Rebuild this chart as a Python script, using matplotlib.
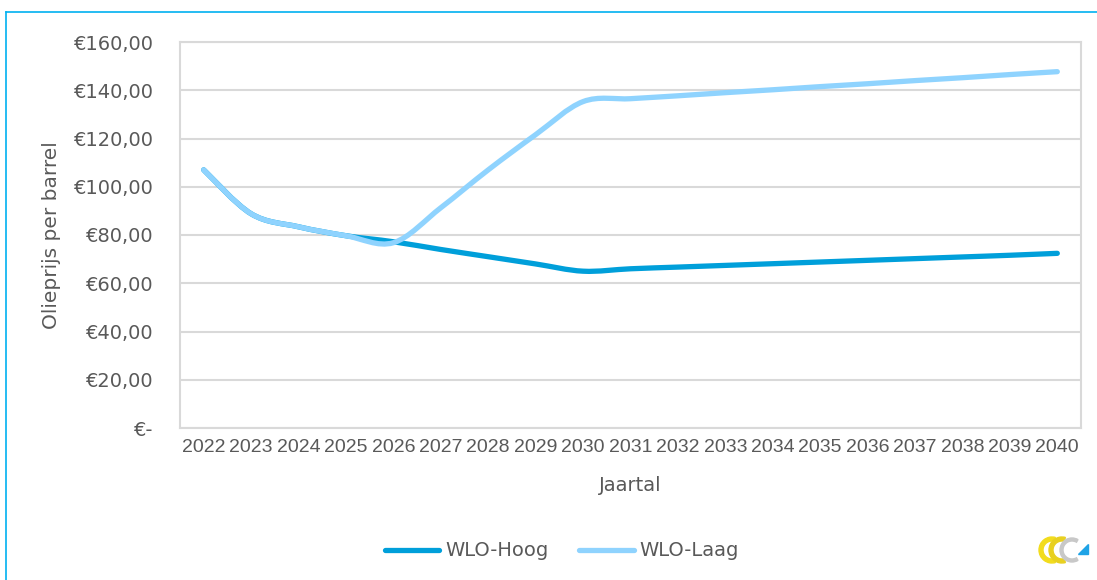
import numpy as np
import matplotlib
matplotlib.use('Agg')
import matplotlib.pyplot as plt
from matplotlib.path import Path
from matplotlib.patches import PathPatch, Wedge, Polygon
from matplotlib.lines import Line2D
from matplotlib.ticker import FuncFormatter

plt.rcParams['font.family'] = ['DejaVu Sans']

# Data
years = list(range(2022, 2041))
wlo_hoog = [107.0, 88.8, 83.4, 79.7, 77.2, 74.0, 71.0, 68.0, 65.0, 66.0,
            66.7, 67.4, 68.1, 68.8, 69.5, 70.2, 70.9, 71.6, 72.4]
wlo_laag = [107.0, 88.8, 83.4, 79.7, 76.8, 91.3, 107.0, 121.6, 135.3, 136.5,
            137.7, 139.0, 140.2, 141.5, 142.7, 144.0, 145.2, 146.5, 147.7]
series_names = ['WLO-Hoog', 'WLO-Laag']
colors = ['#009FDA', '#8FD3FE']

text_col = '#595959'
grid_col = '#D9D9D9'


def smooth_path(xs, ys):
    # Excel style smoothed line: cubic bezier with 1/6 tangent control points
    pts = np.column_stack([xs, ys]).astype(float)
    n = len(pts)
    verts = [pts[0]]
    codes = [Path.MOVETO]
    for i in range(n - 1):
        p0 = pts[i - 1] if i > 0 else pts[i]
        p1 = pts[i]
        p2 = pts[i + 1]
        p3 = pts[i + 2] if i + 2 < n else pts[i + 1]
        c1 = p1 + (p2 - p0) / 6.0
        c2 = p2 - (p3 - p1) / 6.0
        verts += [c1, c2, p2]
        codes += [Path.CURVE4] * 3
    return Path(verts, codes)


fig = plt.figure(figsize=(10.97, 5.80), dpi=100)
ax = fig.add_axes([180 / 1097, 1 - 428 / 580, 901 / 1097, 386 / 580])

x = np.arange(len(years))
for vals, col in zip([wlo_hoog, wlo_laag], colors):
    patch = PathPatch(smooth_path(x, vals), facecolor='none', edgecolor=col,
                      lw=3.8, capstyle='round', joinstyle='round')
    ax.add_patch(patch)

ax.set_xlim(-0.5, len(years) - 0.5)
ax.set_ylim(0, 160)
ax.set_yticks(np.arange(0, 161, 20))
ax.yaxis.set_major_formatter(FuncFormatter(
    lambda v, p: '€-' if v == 0 else '€' + ('%.2f' % v).replace('.', ',')))
ax.set_xticks(x)
ax.set_xticklabels([str(y) for y in years], fontsize=14,
                   family=['Liberation Sans'])
ax.tick_params(axis='y', labelsize=14, colors=text_col, length=0, pad=19)
ax.tick_params(axis='x', colors=text_col, length=0, pad=8)
for lbl in ax.get_yticklabels():
    lbl.set_color(text_col)

ax.grid(axis='y', color=grid_col, lw=1.5)
ax.set_axisbelow(True)
for s in ax.spines.values():
    s.set_color(grid_col)
    s.set_linewidth(1.5)

ax.set_ylabel('Olieprijs per barrel', fontsize=14.5, color=text_col, labelpad=9)
ax.set_xlabel('Jaartal', fontsize=14, color=text_col, labelpad=14)

handles = [Line2D([], [], color=c, lw=3.8, solid_capstyle='round') for c in colors]
fig.legend(handles, series_names, loc='center', bbox_to_anchor=(562 / 1097, 1 - 551 / 580),
           ncol=2, frameon=False, fontsize=14, handlelength=2.8, handletextpad=0.3,
           columnspacing=1.6, labelcolor=text_col)

# border of the chart frame
fig.add_artist(Line2D([6 / 1097, 6 / 1097], [0, 1 - 12 / 580], color='#00B0F0',
                      lw=1.2, transform=fig.transFigure))
fig.add_artist(Line2D([6 / 1097, 1], [1 - 12 / 580, 1 - 12 / 580], color='#00B0F0',
                      lw=1.2, transform=fig.transFigure))

# small logo bottom right
lax = fig.add_axes([1038 / 1097, 1 - 568 / 580, 52 / 1097, 36 / 580])
lax.set_xlim(0, 52)
lax.set_ylim(0, 36)
lax.set_aspect('equal')
lax.axis('off')
lax.add_patch(Wedge((14, 18), 13, 75, 285, width=4, color='#F2DC1D'))
lax.add_patch(Wedge((24, 18), 13, 75, 285, width=4, color='#E8D020'))
lax.add_patch(Wedge((34, 18), 12, 60, 300, width=3, color='#C8C8C8'))
lax.add_patch(Polygon([[40, 14], [50, 14], [50, 24]], color='#1FA3E6'))

fig.savefig('out.png', dpi=100)
